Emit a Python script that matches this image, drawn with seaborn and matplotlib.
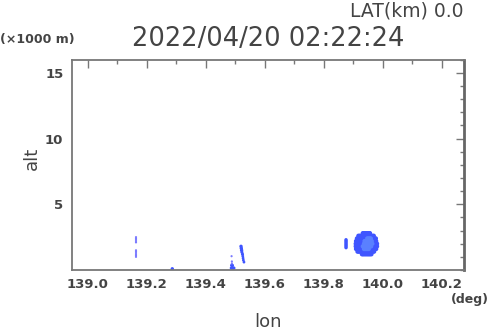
import numpy as np
import pandas as pd
import matplotlib
matplotlib.use("Agg")
import matplotlib.pyplot as plt
from matplotlib.ticker import MultipleLocator
import seaborn as sns

# Echo spans of the main convective cell: (alt km, lon start, lon end, level)
main_alt = [2.8, 2.6, 2.4, 2.2, 2.0, 1.8, 1.6, 1.4, 1.2,
            2.4, 2.2, 2.0, 1.8, 1.6]
main_lon0 = [139.932, 139.917, 139.912, 139.909, 139.908, 139.908, 139.909, 139.914, 139.929,
             139.947, 139.938, 139.936, 139.932, 139.936]
main_lon1 = [139.958, 139.970, 139.976, 139.978, 139.980, 139.980, 139.978, 139.973, 139.963,
             139.960, 139.965, 139.965, 139.960, 139.954]
main_lvl = [1, 1, 1, 1, 1, 1, 1, 1, 1,
            2, 2, 2, 2, 2]

# Small isolated echoes: (lon, alt, level)
small_lon = [139.875, 139.875, 139.875, 139.875, 139.875, 139.875, 139.875,
             139.163, 139.163, 139.163, 139.163, 139.163,
             139.163, 139.163, 139.163, 139.163, 139.163, 139.163,
             139.519, 139.520, 139.521, 139.522, 139.524, 139.525, 139.526, 139.527, 139.529,
             139.486, 139.489, 139.492, 139.495, 139.487, 139.490, 139.488, 139.488, 139.487,
             139.285, 139.287]
small_alt = [1.7, 1.8, 1.9, 2.0, 2.1, 2.2, 2.3,
             2.1, 2.2, 2.3, 2.4, 2.5,
             1.0, 1.1, 1.2, 1.3, 1.4, 1.5,
             1.8, 1.65, 1.5, 1.35, 1.2, 1.05, 0.9, 0.75, 0.6,
             0.15, 0.15, 0.15, 0.15, 0.35, 0.35, 0.5, 0.65, 1.05,
             0.1, 0.1]
small_lvl = [1, 1, 1, 1, 1, 1, 1,
             3, 3, 3, 3, 3,
             3, 3, 3, 3, 3, 3,
             1, 1, 1, 1, 1, 1, 1, 1, 1,
             1, 1, 1, 1, 1, 1, 3, 3, 3,
             1, 1]
small_size = [6, 6, 6, 6, 6, 6, 6,
              2.5, 2.5, 2.5, 2.5, 2.5,
              2.5, 2.5, 2.5, 2.5, 2.5, 2.5,
              6, 6, 6, 5, 5, 4, 4, 4, 4,
              5, 5, 5, 5, 5, 5, 2.5, 2.5, 2.5,
              4, 4]

palette = {1: "#3f55ff", 2: "#5a80ff", 3: "#7a7aff"}

# Expand spans into radar cells on a 0.004 deg grid
rows = []
for a, l0, l1, lv in zip(main_alt, main_lon0, main_lon1, main_lvl):
    for lon in np.arange(l0, l1 + 1e-9, 0.004):
        rows.append((lon, a, lv))
main = pd.DataFrame(rows, columns=["lon", "alt", "lvl"])
main = main.sort_values("lvl", kind="stable")
small = pd.DataFrame({"lon": small_lon, "alt": small_alt, "lvl": small_lvl,
                      "sz": small_size})

sns.set_style("white")
plt.rcParams["font.family"] = ["DejaVu Sans"]

fig = plt.figure(figsize=(4.9, 3.31), dpi=100)
ax = fig.add_axes([0.1463, 0.1843, 0.8007, 0.6353])

sns.scatterplot(data=main, x="lon", y="alt", hue="lvl", palette=palette,
                marker="o", s=10, linewidth=0, legend=False, ax=ax)
sns.scatterplot(data=small, x="lon", y="alt", hue="lvl", palette=palette,
                size="sz", sizes=(2.5, 6), marker="o", linewidth=0,
                legend=False, ax=ax)

ax.set_xlim(138.945, 140.275)
ax.set_ylim(0, 16)
xt = np.round(np.arange(139.0, 140.21, 0.2), 1)
ax.set_xticks(xt)
ax.set_xticklabels([f"{v:.1f}" for v in xt])
ax.set_yticks([5, 10, 15])
ax.set_yticklabels(["5", "10", "15"])
ax.xaxis.set_minor_locator(MultipleLocator(0.1))
ax.yaxis.set_minor_locator(MultipleLocator(1))

tick_col = "#777777"
ax.tick_params(which="both", direction="in", top=True, right=True,
               color=tick_col, width=1.0)
ax.tick_params(which="major", length=6)
ax.tick_params(which="minor", length=3)
ax.tick_params(axis="both", which="major", labelsize=9.5, labelcolor="#444444", pad=6)
for lab in ax.get_xticklabels() + ax.get_yticklabels():
    lab.set_fontweight("bold")
for side, sp in ax.spines.items():
    sp.set_color(tick_col)
    sp.set_linewidth(1.3)
ax.spines["right"].set_linewidth(2.0)
ax.spines["right"].set_color("#666666")

ax.set_xlabel("")
ax.set_ylabel("")
fig.text(268 / 490, 1 - 322 / 331, "lon", ha="center", va="center",
         fontsize=13, color="#444444")
fig.text(32 / 490, 1 - 158 / 331, "alt", ha="center", va="center",
         rotation=90, fontsize=13, color="#444444")
fig.text(489 / 490, 1 - 300 / 331, "(deg)", ha="right", va="center",
         fontsize=9, fontweight="bold", color="#444444")
fig.text(0 / 490, 1 - 40 / 331, "(\u00d71000 m)", ha="left", va="center",
         fontsize=9, fontweight="bold", color="#444444")
fig.text(463 / 490, 1 - 11 / 331, "LAT(km) 0.0", ha="right", va="center",
         fontsize=13.5, color="#444444")
fig.text(268 / 490, 1 - 39 / 331, "2022/04/20 02:22:24", ha="center", va="center",
         fontsize=18.5, color="#444444")

fig.savefig("out.png", dpi=100)
